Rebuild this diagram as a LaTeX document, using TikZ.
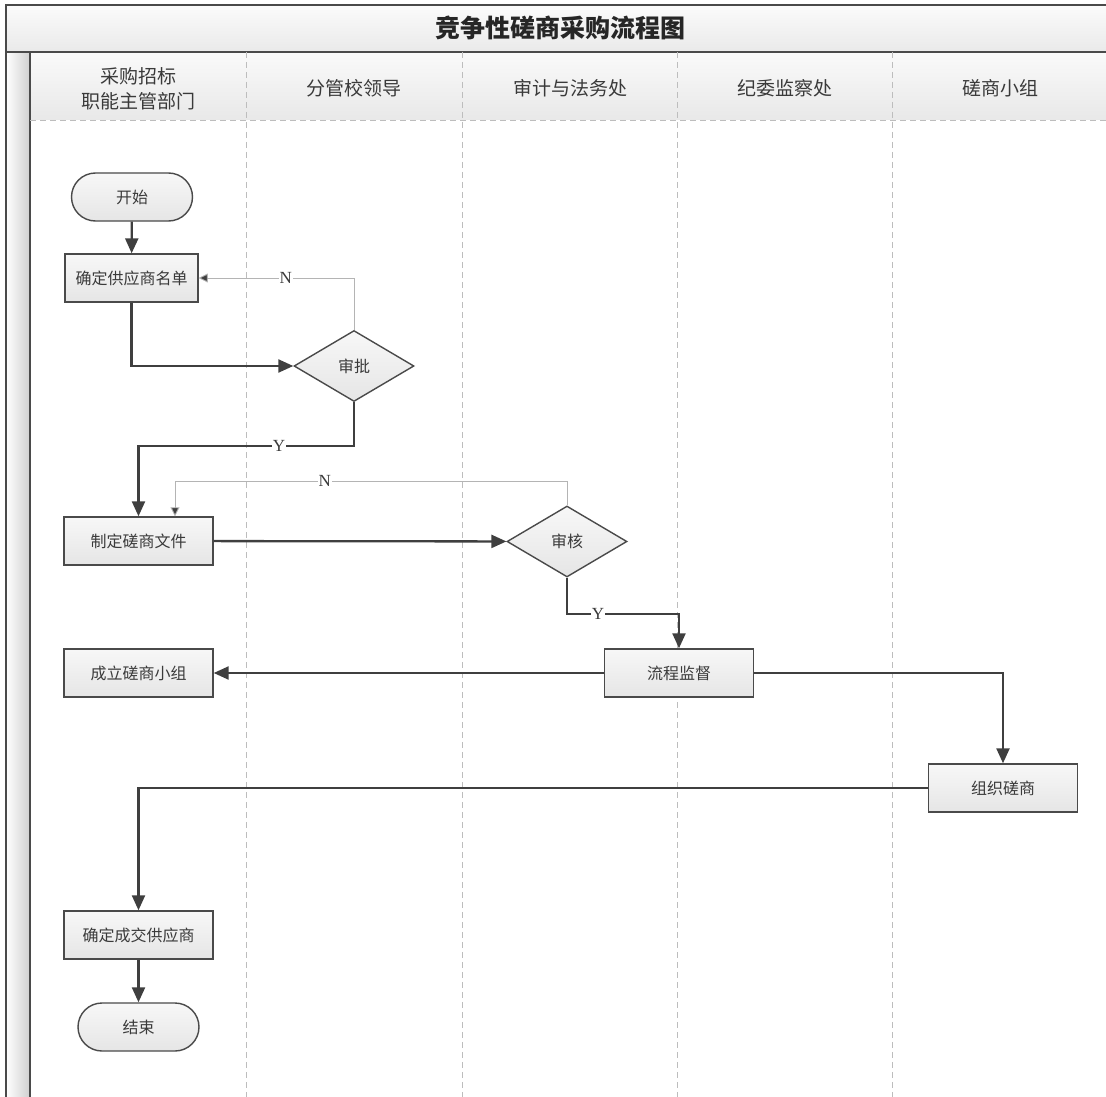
\documentclass[tikz,border=0pt]{standalone}
\usepackage{fontspec}
\setmainfont{Liberation Serif}
\newfontfamily\cjk{Noto Sans CJK SC}
\usetikzlibrary{arrows.meta,shapes.geometric}
\definecolor{edgegray}{HTML}{4A4A4A}
\definecolor{flowgray}{HTML}{3F3F3F}
\definecolor{backgray}{HTML}{B4B4B4}
\definecolor{lanegray}{HTML}{BDBDBD}
\definecolor{txtgray}{HTML}{3A3A3A}
\begin{document}
\begin{tikzpicture}[x=1pt,y=-1pt,
    box/.style={draw=edgegray, line width=1.4pt, top color=white!94!gray, bottom color=white!80!gray,
        minimum width=149pt, minimum height=48pt, inner sep=0pt, text=txtgray,
        font=\cjk\fontsize{16}{19}\selectfont},
    term/.style={box, rounded corners=24pt, minimum width=121pt},
    decide/.style={box, diamond, minimum width=120pt, minimum height=71pt},
    flow/.style={draw=flowgray, line width=2.3pt, -{Triangle[length=15pt,width=13pt]}},
    back/.style={draw=backgray, line width=0.9pt, -{Triangle[length=9pt,width=9pt,fill=flowgray]}},
    lbl/.style={fill=white, inner sep=1pt, text=txtgray, font=\fontsize{17}{19}\selectfont},
    lane/.style={draw=lanegray, line width=0.8pt, dash pattern=on 6pt off 4pt},
    head/.style={text=txtgray, font=\cjk\fontsize{19}{25}\selectfont, align=center}]
    \useasboundingbox (0,0) rectangle (1106,1097);

    % Titel und Kopfzeile
    \shade[top color=white!97!gray, bottom color=white!83!gray] (6,5) rectangle (1106,52);
    \shade[top color=white!96!gray, bottom color=white!82!gray] (30,52) rectangle (1106,120);
    \shade[left color=white, right color=white!62!gray] (6,52) rectangle (30,1097);
    \draw[edgegray, line width=1.5pt] (1106,5) -- (6,5) -- (6,1097);
    \draw[edgegray, line width=1.5pt] (6,52) -- (1106,52);
    \draw[edgegray, line width=2pt] (30,52) -- (30,1097);
    \node[font=\cjk\bfseries\fontsize{25}{28}\selectfont, text=black!85] (title) at (560,28) {竞争性磋商采购流程图};

    % Bahnen
    \draw[lane] (30,120) -- (1106,120);
    \foreach \x in {246,462,677,892}
        \draw[lane] (\x,52) -- (\x,1097);
    \node[head] (h1) at (138,89) {采购招标\\职能主管部门};
    \node[head] (h2) at (354,88) {分管校领导};
    \node[head] (h3) at (570,88) {审计与法务处};
    \node[head] (h4) at (785,88) {纪委监察处};
    \node[head] (h5) at (1000,88) {磋商小组};

    % Knoten
    \node[term] (start) at (132,197) {开始};
    \node[box, minimum width=133pt] (list) at (131.5,278) {确定供应商名单};
    \node[decide] (approve) at (354,366) {审批};
    \node[box] (doc) at (138.5,541) {制定磋商文件};
    \node[decide] (review) at (567,541.5) {审核};
    \node[box] (supervise) at (679,673) {流程监督};
    \node[box] (team) at (138.5,673) {成立磋商小组};
    \node[box] (organize) at (1003,788) {组织磋商};
    \node[box] (deal) at (138.5,935) {确定成交供应商};
    \node[term] (end) at (138.5,1027) {结束};

    % Verbindungen
    \draw[flow] (start) -- (list);
    \draw[flow] (list.south) |- (approve.west);
    \draw[back] (approve.north) |- (list.east) node[lbl, pos=0.72] (n1) {N};
    \draw[flow] (approve.south) -- ++(0,44) -| (doc.north) node[lbl, pos=0.174] (y1) {Y};
    \draw[back] (review.north) -- ++(0,-24) -| ([xshift=36.5pt]doc.north) node[lbl, pos=0.309] (n2) {N};
    \draw[flow] (doc) -- (review);
    \draw[flow] (review.south) -- ++(0,36) -| (supervise.north) node[lbl, pos=0.138] (y2) {Y};
    \draw[flow] (supervise) -- (team);
    \draw[flow] (supervise.east) -| (organize.north);
    \draw[flow] (organize.west) -| (deal.north);
    \draw[flow] (deal) -- (end);
\end{tikzpicture}
\end{document}
